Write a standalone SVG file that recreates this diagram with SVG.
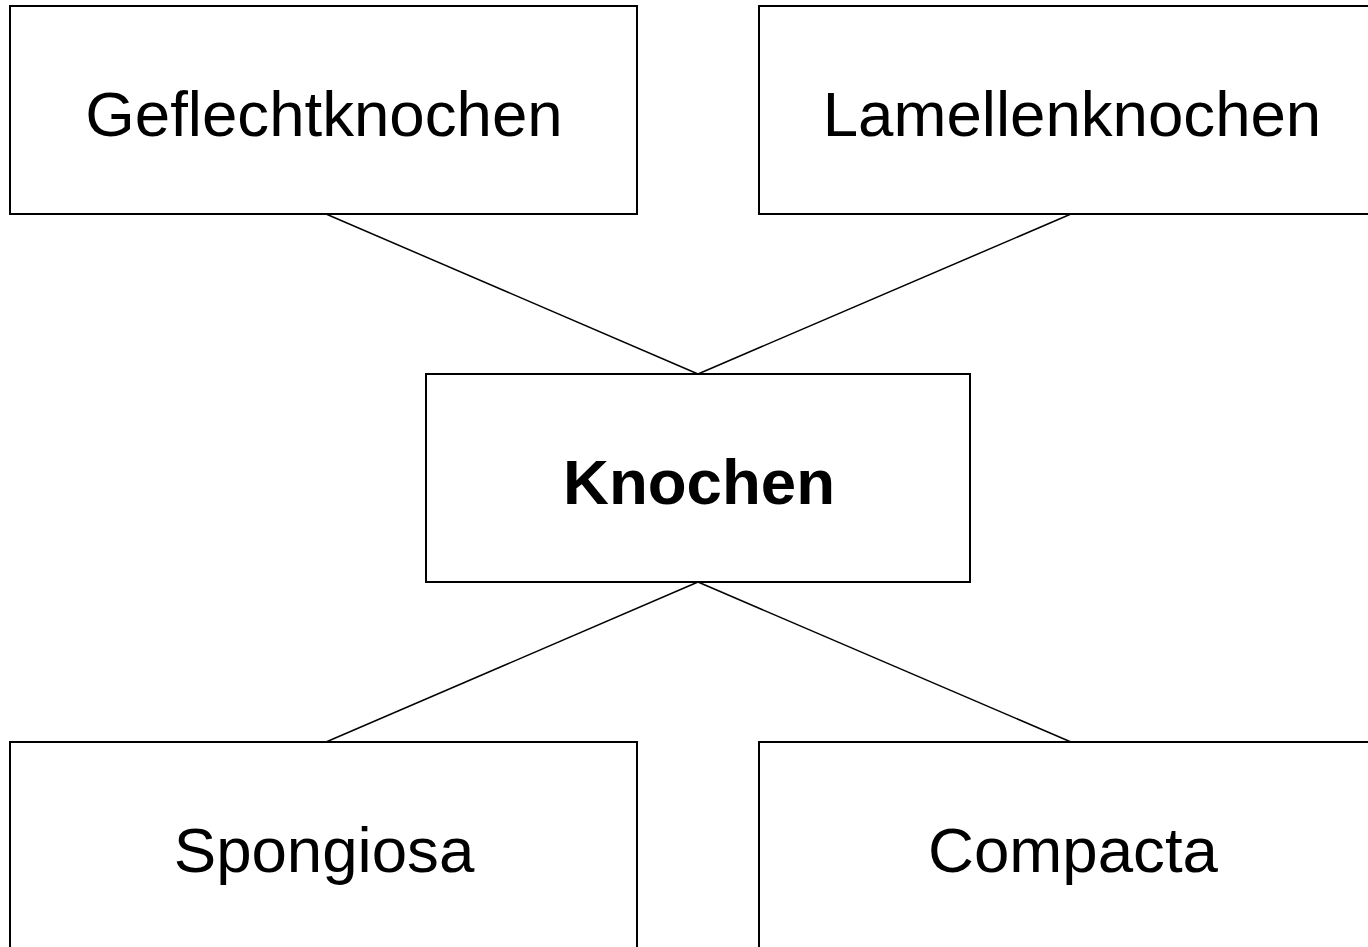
<svg xmlns="http://www.w3.org/2000/svg" width="1368" height="947" viewBox="0 0 1368 947">
  <style>
    .box { fill: #ffffff; stroke: #000000; stroke-width: 2; }
    .label { font-family: "Liberation Sans", Arial, sans-serif; font-size: 63.6px; fill: #000000; text-anchor: middle; }
    .bold { font-weight: bold; }
    .link { stroke: #000000; stroke-width: 1.5; fill: none; }
  </style>
  <rect width="1368" height="947" fill="#ffffff"/>

  <g id="connectors">
    <line class="link" x1="326" y1="214" x2="698" y2="374"/>
    <line class="link" x1="1071" y1="214" x2="698" y2="374"/>
    <line class="link" x1="698" y1="582" x2="326" y2="742"/>
    <line class="link" x1="698" y1="582" x2="1071" y2="742"/>
  </g>

  <g id="geflechtknochen">
    <rect class="box" x="10" y="6" width="627" height="208"/>
    <text class="label" x="324" y="136">Geflechtknochen</text>
  </g>

  <g id="lamellenknochen">
    <rect class="box" x="759" y="6" width="627" height="208"/>
    <text class="label" x="1072" y="136">Lamellenknochen</text>
  </g>

  <g id="knochen">
    <rect class="box" x="426" y="374" width="544" height="208"/>
    <text class="label bold" x="699" y="504">Knochen</text>
  </g>

  <g id="spongiosa">
    <rect class="box" x="10" y="742" width="627" height="208"/>
    <text class="label" x="324" y="872">Spongiosa</text>
  </g>

  <g id="compacta">
    <rect class="box" x="759" y="742" width="627" height="208"/>
    <text class="label" x="1073" y="872">Compacta</text>
  </g>
</svg>
